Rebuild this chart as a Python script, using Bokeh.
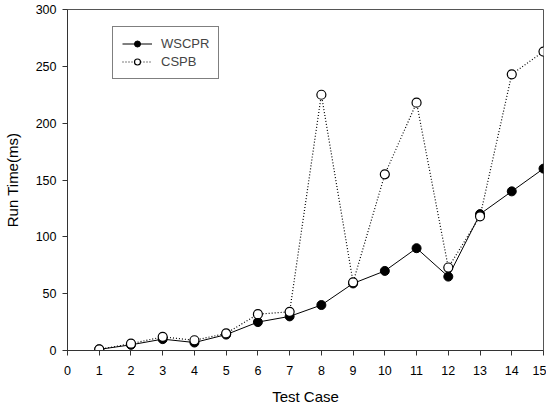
from bokeh.plotting import figure
from bokeh.embed import file_html
from bokeh.resources import INLINE
from bokeh.models import Range1d, FixedTicker, Legend, LegendItem

cases = list(range(1, 16))
wscpr = [1, 5, 10, 7, 14, 25, 30, 40, 59, 70, 90, 65, 120, 140, 160]
cspb = [1, 6, 12, 9, 15, 32, 34, 225, 60, 155, 218, 73, 118, 243, 263]
x_ticks = list(range(0, 16))
y_ticks = [0, 50, 100, 150, 200, 250, 300]

FONT = "Liberation Sans"

p = figure(width=546, height=407, output_backend="svg", toolbar_location=None,
           x_range=Range1d(0, 15), y_range=Range1d(0, 300),
           min_border_left=67, min_border_right=3, min_border_top=9, min_border_bottom=56)
p.xgrid.visible = False
p.ygrid.visible = False
p.outline_line_color = "#555555"
p.outline_line_width = 1

for ax in (p.xaxis[0], p.yaxis[0]):
    ax.major_tick_in = 0
    ax.major_tick_out = 5
    ax.minor_tick_line_color = None
    ax.axis_line_color = "#333333"
    ax.major_tick_line_color = "#333333"
    ax.major_label_text_font = FONT
    ax.major_label_text_font_size = "12.5px"
    ax.major_label_text_color = "black"
    ax.axis_label_text_font = FONT
    ax.axis_label_text_font_size = "15px"
    ax.axis_label_text_font_style = "normal"
    ax.axis_label_text_color = "black"

p.xaxis.ticker = FixedTicker(ticks=x_ticks)
p.yaxis.ticker = FixedTicker(ticks=y_ticks)
p.xaxis.axis_label = "Test Case"
p.yaxis.axis_label = "Run Time(ms)"
p.xaxis.major_label_standoff = 10
p.xaxis.axis_label_standoff = 10
p.yaxis.major_label_standoff = 6
p.yaxis.axis_label_standoff = 12

l1 = p.line(cases, wscpr, line_color="black", line_width=1)
s1 = p.scatter(cases, wscpr, size=9, fill_color="black", line_color="black")
l2 = p.line(cases, cspb, line_color="black", line_width=1.2, line_dash="1 2")
s2 = p.scatter(cases, cspb, size=9, fill_color="white", line_color="black", line_width=1.2)

legend = Legend(items=[LegendItem(label="WSCPR", renderers=[l1, s1]),
                       LegendItem(label="CSPB", renderers=[l2, s2])],
                location=(45, 271))
legend.border_line_color = "black"
legend.border_line_width = 1
legend.background_fill_alpha = 1
legend.padding = 9
legend.spacing = 3
legend.glyph_width = 30
legend.glyph_height = 15
legend.label_height = 15
legend.label_standoff = 9
legend.label_text_font = FONT
legend.label_text_font_size = "13px"
legend.margin = 0
p.add_layout(legend, "center")

open("out.html", "w").write(file_html(p, INLINE))
